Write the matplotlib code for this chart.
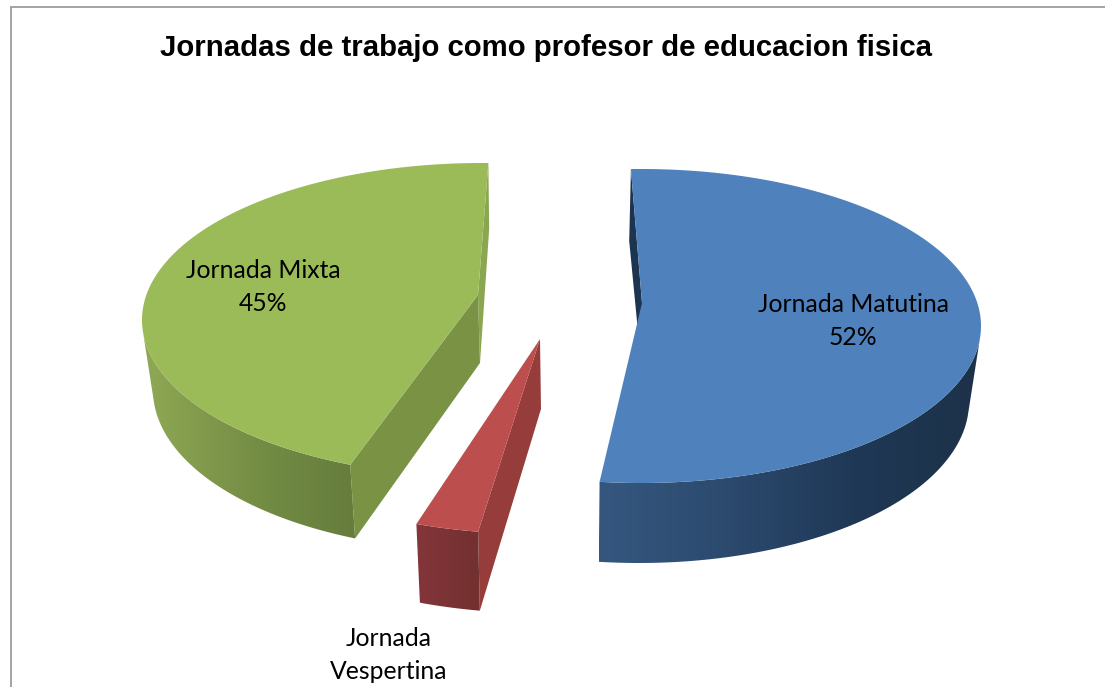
import numpy as np
import matplotlib
matplotlib.use("Agg")
import matplotlib.pyplot as plt
from matplotlib.colors import LinearSegmentedColormap
from matplotlib.patches import Polygon

# chart values
names = ["Jornada Matutina", "Jornada Vespertina", "Jornada Mixta"]
shares = [52, 3, 45]

title = "Jornadas de trabajo como profesor de educacion fisica"

# exploded slice geometry, in image pixels
# (the projected pie squeezes some angles, hence sweep_fix)
top_centers = [(641, 326), (536, 377), (482, 320)]
low_centers = [(639, 402), (536, 452), (483, 390)]
apex_top = [(642, 303), (540, 339), (478, 295)]
apex_low = [(642, 373), (541, 409), (480, 363)]
start_angle = [-1.7, 189.8, 202.8]
sweep_fix = [1.008, 1.0, 0.977]
top_radii = (340, 157)
low_radii = (330, 161)

top_colors = ["#4f81bd", "#bc4f4d", "#9bbb59"]
start_face = ["#1d3450", "#963d3b", "#7a9244"]
end_face = [None, None, "#8aa650"]
side_grad = [["#35577f", "#2c4a6e", "#1f3856", "#1d3249"],
             ["#84363a", "#72302f"],
             ["#8fa955", "#7e974a", "#6f8842", "#667d3c"]]
side_range = [(95, None), (None, None), (None, 265)]


def ring(center, radii, angles):
    t = np.radians(angles)
    return np.column_stack([center[0] + radii[0] * np.sin(t),
                            center[1] - radii[1] * np.cos(t)])


def cut_face(i, angle):
    return [ring(top_centers[i], top_radii, [angle])[0],
            ring(low_centers[i], low_radii, [angle])[0],
            apex_low[i], apex_top[i]]


def draw_slice(ax, i):
    a0 = start_angle[i]
    a1 = a0 + shares[i] * 3.6 * sweep_fix[i]
    top_c, low_c = top_centers[i], low_centers[i]

    # flat faces from the cuts
    if end_face[i]:
        ax.add_patch(Polygon(cut_face(i, a1), fc=end_face[i], ec="none", zorder=2))
    ax.add_patch(Polygon(cut_face(i, a0), fc=start_face[i], ec="none", zorder=2))

    # outer wall with left to right gradient
    lo = side_range[i][0] if side_range[i][0] is not None else a0
    hi = side_range[i][1] if side_range[i][1] is not None else a1
    t = np.linspace(max(lo, a0), min(hi, a1), 200)
    wall = np.vstack([ring(top_c, top_radii, t), ring(low_c, low_radii, t[::-1])])
    patch = Polygon(wall, fc="none", ec="none", zorder=3)
    ax.add_patch(patch)
    cmap = LinearSegmentedColormap.from_list("side", side_grad[i])
    grad = np.linspace(0, 1, 256).reshape(1, -1)
    im = ax.imshow(grad, cmap=cmap, aspect="auto", zorder=3,
                   extent=(wall[:, 0].min(), wall[:, 0].max(), 687, 0))
    im.set_clip_path(patch)

    # top face
    t = np.linspace(a0, a1, 300)
    face = np.vstack([ring(top_c, top_radii, t), [apex_top[i]]])
    ax.add_patch(Polygon(face, fc=top_colors[i], ec="none", zorder=4))


fig = plt.figure(figsize=(11.05, 6.87), dpi=100)
ax = fig.add_axes([0, 0, 1, 1])

for i in range(len(shares)):
    draw_slice(ax, i)

ax.set_xlim(0, 1105)
ax.set_ylim(687, 0)
ax.axis("off")

# chart frame, cut by the crop at right and bottom
ax.plot([10.5, 10.5, 1105], [687, 6.5, 6.5], color="#a3a3a3", lw=1.4, zorder=1,
        solid_joinstyle="miter")

ax.text(546, 48, title, family="Liberation Sans", weight="bold", fontsize=21.2,
        ha="center", va="center", color="black", zorder=6)

label_font = dict(family="Lato", fontsize=17.8, ha="center", va="center",
                  color="black", zorder=6, linespacing=1.5)
ax.text(853, 321, f"{names[0]}\n{shares[0]}%", **label_font)
ax.text(263, 287, f"{names[2]}\n{shares[2]}%", **label_font)
ax.text(389, 655, names[1].replace(" ", "\n"), **label_font)

fig.savefig("out.png", dpi=100)
